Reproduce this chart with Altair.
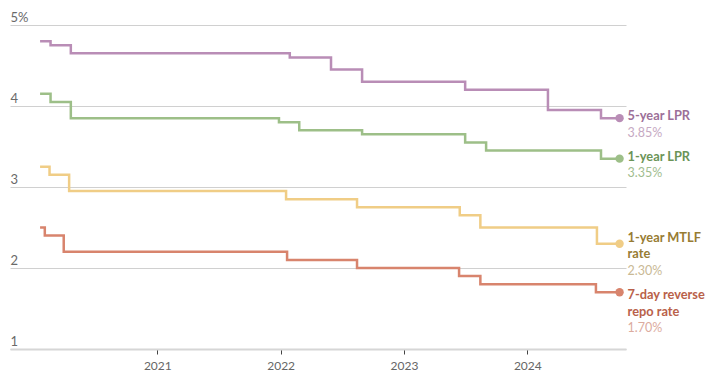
import altair as alt
import pandas as pd

# ---------------- data ----------------
series = ["5-year LPR", "1-year LPR", "1-year MTLF rate", "7-day reverse repo rate"]

lpr5_dates = ["2020-01-20", "2020-02-20", "2020-04-20", "2022-01-28", "2022-05-30",
              "2022-08-30", "2023-07-01", "2024-03-02", "2024-08-06", "2024-09-30"]
lpr5_values = [4.80, 4.75, 4.65, 4.60, 4.45, 4.30, 4.20, 3.95, 3.85, 3.85]

lpr1_dates = ["2020-01-20", "2020-02-20", "2020-04-20", "2021-12-27", "2022-02-25",
              "2022-08-30", "2023-07-01", "2023-09-01", "2024-08-06", "2024-09-30"]
lpr1_values = [4.15, 4.05, 3.85, 3.80, 3.70, 3.65, 3.55, 3.45, 3.35, 3.35]

mtlf_dates = ["2020-01-20", "2020-02-17", "2020-04-15", "2022-01-17", "2022-08-15",
              "2023-06-15", "2023-08-15", "2024-07-25", "2024-09-30"]
mtlf_values = [3.25, 3.15, 2.95, 2.85, 2.75, 2.65, 2.50, 2.30, 2.30]

repo_dates = ["2020-01-20", "2020-02-03", "2020-03-30", "2022-01-20", "2022-08-15",
              "2023-06-13", "2023-08-15", "2024-07-22", "2024-09-30"]
repo_values = [2.50, 2.40, 2.20, 2.10, 2.00, 1.90, 1.80, 1.70, 1.70]

label_names = ["5-year LPR", "1-year LPR", "1-year MTLF\nrate", "7-day reverse\nrepo rate"]
value_labels = ["3.85%", "3.35%", "2.30%", "1.70%"]
year_ticks = [2021, 2022, 2023, 2024]
y_ticks = [1, 2, 3, 4, 5]

# ---------------- styles ----------------
line_colors = ["#b98db6", "#9dbf88", "#f0cd86", "#d8846d"]
name_colors = ["#9c6f98", "#6b9457", "#977c33", "#b9614a"]
value_colors = ["#c6a9c3", "#9fbd8f", "#c9b995", "#dcab9e"]
label_nudge = [0, 0, -4, 5]
FONT = "Source Sans Pro, Lato, sans-serif"
LINE_H = 16.5

all_dates = [lpr5_dates, lpr1_dates, mtlf_dates, repo_dates]
all_values = [lpr5_values, lpr1_values, mtlf_values, repo_values]

rows = []
for s, ds, vs in zip(series, all_dates, all_values):
    for d, v in zip(ds, vs):
        rows.append({"series": s, "date": d, "value": v})
df = pd.DataFrame(rows)

end_rows = []
for s, ds, vs, nm, vl in zip(series, all_dates, all_values, label_names, value_labels):
    end_rows.append({"series": s, "date": ds[-1], "value": vs[-1], "name": nm, "vlabel": vl})
df_end = pd.DataFrame(end_rows)

x_scale = alt.Scale(domain=[alt.DateTime(year=2019, month=10, date=23),
                            alt.DateTime(year=2024, month=10, date=19)])
y_scale = alt.Scale(domain=[1, 5], nice=False, zero=False)

x_enc = alt.X(
    "date:T", scale=x_scale, title=None,
    axis=alt.Axis(
        values=[alt.DateTime(year=y, month=1, date=1) for y in year_ticks],
        format="%Y", grid=False, domain=True, domainColor="#d6d6d6", domainWidth=2,
        ticks=True, tickColor="#444", tickSize=5, tickWidth=1,
        labelColor="#666", labelFont=FONT, labelFontSize=12, labelPadding=6,
        labelFlush=False,
    ),
)
y_enc = alt.Y(
    "value:Q", scale=y_scale, title=None,
    axis=alt.Axis(
        values=y_ticks, grid=True, gridColor="#d0d0d0", gridWidth=1,
        domain=False, ticks=False, tickSize=0, format="d",
        labelAlign="left", labelBaseline="alphabetic", labelOffset=-4, labelPadding=0,
        labelColor="#6a6a6a", labelFont=FONT, labelFontSize=13, labelFlush=False,
        labelExpr="datum.value == 5 ? '5%' : datum.label",
    ),
)

color_line = alt.Color("series:N", scale=alt.Scale(domain=series, range=line_colors), legend=None)

lines = alt.Chart(df).mark_line(interpolate="step-after", strokeWidth=2.5).encode(
    x=x_enc, y=y_enc, color=color_line
)
dots = alt.Chart(df_end).mark_circle(size=70, opacity=1).encode(
    x="date:T", y="value:Q", color=color_line
)

layers = [lines, dots]
for i, s in enumerate(series):
    nlines = label_names[i].count("\n") + 1
    name_dy = -8 + label_nudge[i]
    sub = df_end[df_end["series"] == s]
    name_t = alt.Chart(sub).mark_text(
        align="left", baseline="top", dx=8, dy=name_dy, font=FONT, fontSize=12.8,
        fontWeight="bold", lineBreak="\n", lineHeight=LINE_H, color=name_colors[i],
    ).encode(x="date:T", y="value:Q", text="name:N")
    val_t = alt.Chart(sub).mark_text(
        align="left", baseline="top", dx=8, dy=name_dy + LINE_H * nlines, font=FONT,
        fontSize=12.5, color=value_colors[i],
    ).encode(x="date:T", y="value:Q", text="vlabel:N")
    layers += [name_t, val_t]

chart = alt.layer(*layers).properties(
    width=616, height=324,
    autosize=alt.AutoSizeParams(type="none"),
    padding={"left": 2, "top": 17, "right": 80, "bottom": 28},
    background="white",
).configure_view(stroke=None)

chart.save("out.html", embed_options={"renderer": "svg", "actions": False})
